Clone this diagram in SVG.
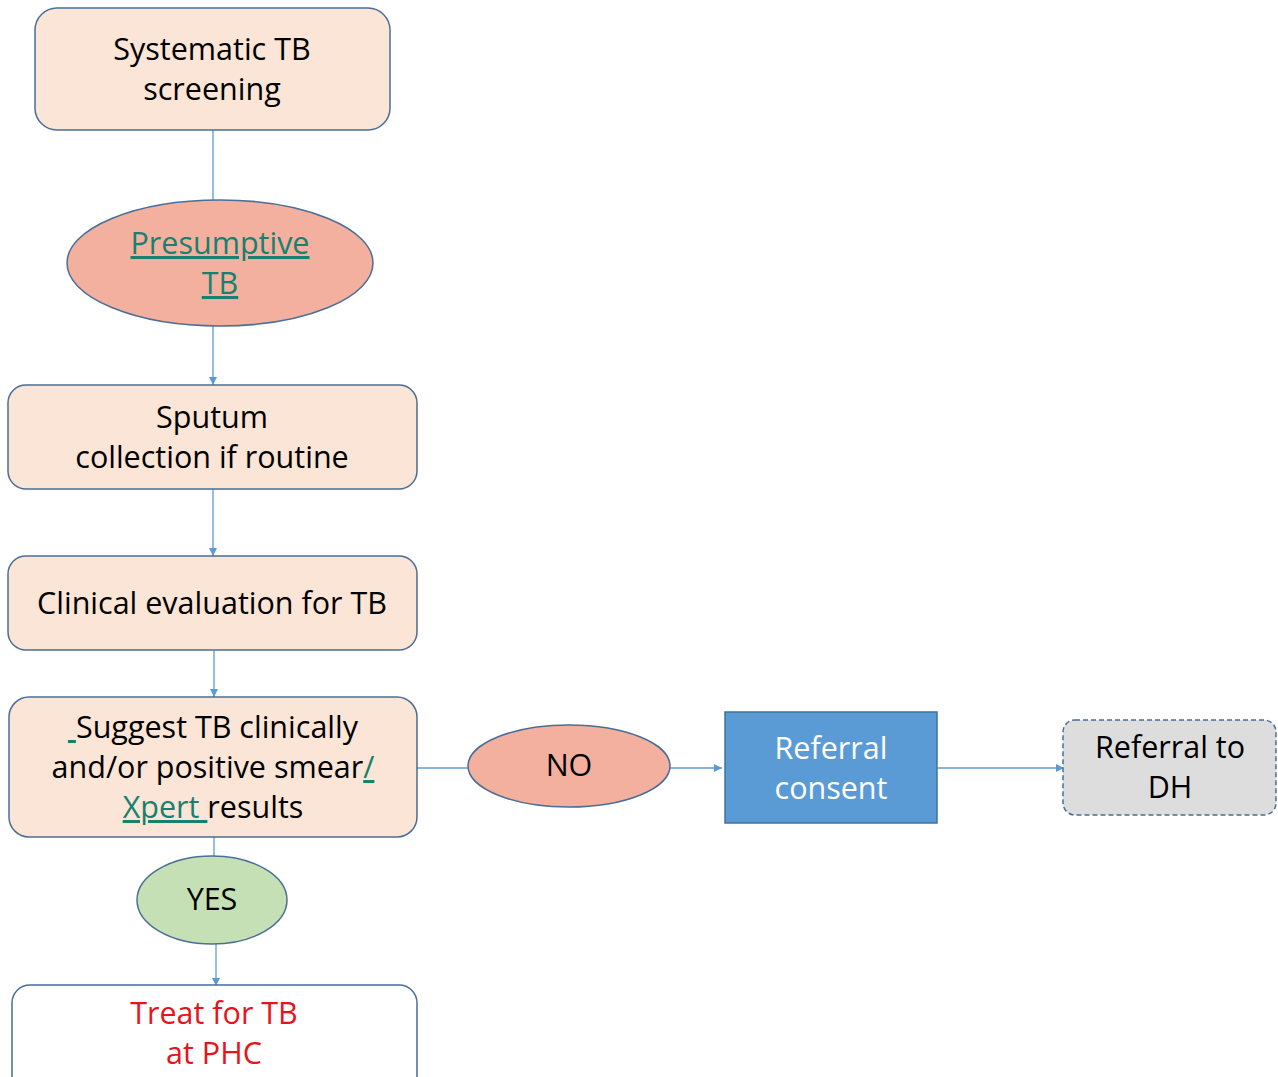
<svg xmlns="http://www.w3.org/2000/svg" width="1278" height="1077" viewBox="0 0 1278 1077">
<style>
text{font-family:"Open Sans","Liberation Sans",sans-serif;font-size:30.5px;text-anchor:middle;fill:#000}
.box{fill:#FBE5D6;stroke:#4A6E96;stroke-width:1.5}
.ell{fill:#F4B09E;stroke:#4A6E96;stroke-width:1.5}
.link{fill:#17806F;text-decoration:underline}
.conn{stroke:#5B9BD5;stroke-width:1.3;fill:none}
</style>
<defs>
<marker id="arr" viewBox="0 0 10 10" refX="10" refY="5" markerWidth="8" markerHeight="8" markerUnits="userSpaceOnUse" orient="auto">
<path d="M0,0 L10,5 L0,10 z" fill="#5B9BD5"/>
</marker>
</defs>
<rect width="1278" height="1077" fill="#fff"/>
<g id="connectors">
<line class="conn" x1="213" y1="130" x2="213" y2="200"/>
<line class="conn" x1="213" y1="326" x2="213" y2="385" marker-end="url(#arr)"/>
<line class="conn" x1="213" y1="489" x2="213" y2="556" marker-end="url(#arr)"/>
<line class="conn" x1="214" y1="650" x2="214" y2="697" marker-end="url(#arr)"/>
<line class="conn" x1="417" y1="768" x2="468" y2="768"/>
<line class="conn" x1="670" y1="768" x2="722" y2="768" marker-end="url(#arr)"/>
<line class="conn" x1="938" y1="768" x2="1064" y2="768" marker-end="url(#arr)"/>
<line class="conn" x1="214" y1="837" x2="214" y2="856"/>
<line class="conn" x1="216" y1="944" x2="216" y2="986" marker-end="url(#arr)"/>
</g>
<g id="n1">
<rect class="box" x="35" y="8" width="355" height="122" rx="22"/>
<text x="212" y="60">Systematic TB</text>
<text x="212" y="100">screening</text>
</g>
<g id="n2">
<ellipse class="ell" cx="220" cy="263" rx="153" ry="63"/>
<text x="220" y="254" class="link">Presumptive</text>
<text x="220" y="294" class="link">TB</text>
</g>
<g id="n3">
<rect class="box" x="8" y="385" width="409" height="104" rx="18"/>
<text x="212" y="428">Sputum</text>
<text x="212" y="468">collection if routine</text>
</g>
<g id="n4">
<rect class="box" x="8" y="556" width="409" height="94" rx="18"/>
<text x="212" y="614">Clinical evaluation for TB</text>
</g>
<g id="n5">
<rect class="box" x="9" y="697" width="408" height="140" rx="20"/>
<text x="213" y="738"><tspan class="link">&#160;</tspan>Suggest TB clinically</text>
<text x="213" y="778">and/or positive smear<tspan class="link">/</tspan></text>
<text x="213" y="818"><tspan class="link">Xpert&#160;</tspan>results</text>
</g>
<g id="n6">
<ellipse class="ell" cx="569" cy="766" rx="101" ry="41"/>
<text x="569" y="776">NO</text>
</g>
<g id="n7">
<rect x="725" y="712" width="212" height="111" fill="#5B9BD5" stroke="#41719C" stroke-width="1.5"/>
<text x="831" y="759" style="fill:#fff">Referral</text>
<text x="831" y="799" style="fill:#fff">consent</text>
</g>
<g id="n8">
<rect x="1063" y="720" width="213" height="95" rx="12" fill="#DDDDDD" stroke="#4A6E96" stroke-width="1.5" stroke-dasharray="5,3"/>
<text x="1170" y="758">Referral to</text>
<text x="1170" y="798">DH</text>
</g>
<g id="n9">
<ellipse cx="212" cy="900" rx="75" ry="44" fill="#C5E0B4" stroke="#4A6E96" stroke-width="1.5"/>
<text x="212" y="910">YES</text>
</g>
<g id="n10">
<rect x="12" y="985" width="405" height="110" rx="18" fill="#fff" stroke="#4A6E96" stroke-width="1.5"/>
<text x="214" y="1024" style="fill:#E8141B">Treat for TB</text>
<text x="214" y="1064" style="fill:#E8141B">at PHC</text>
</g>
</svg>
